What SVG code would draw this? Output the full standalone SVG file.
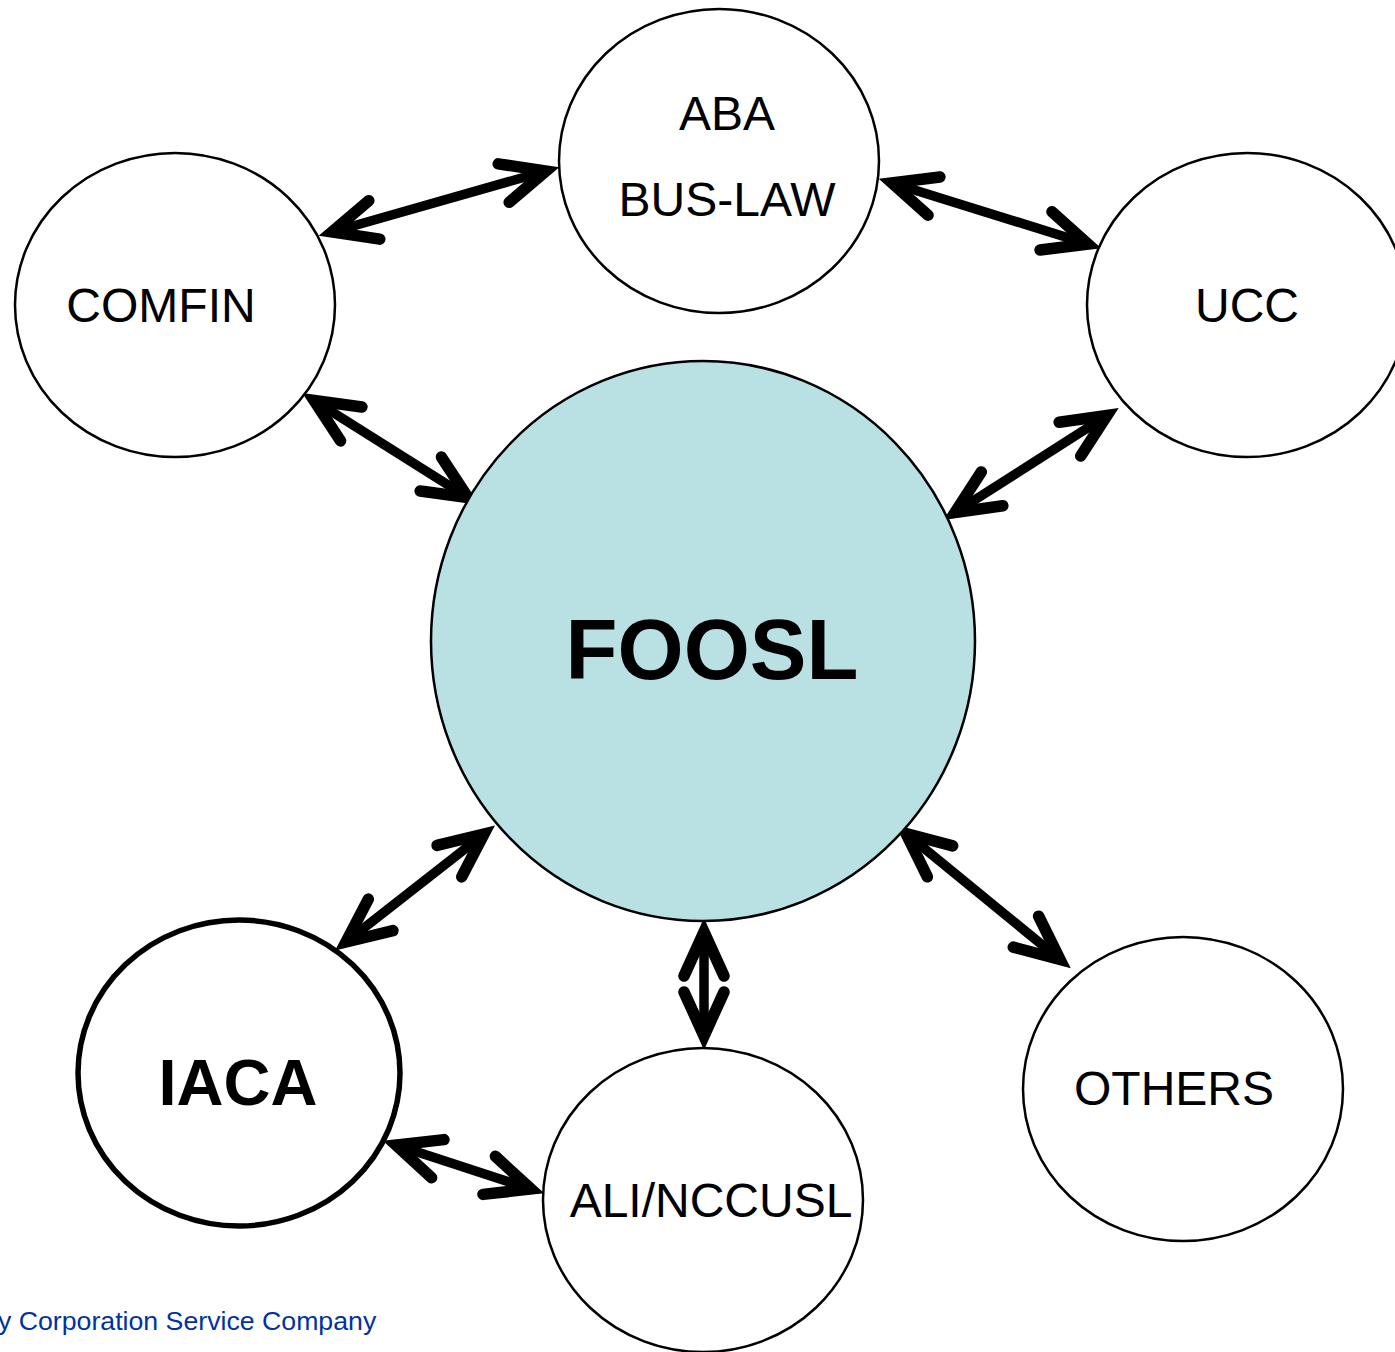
<svg xmlns="http://www.w3.org/2000/svg" width="1395" height="1352" viewBox="0 0 1395 1352">
<defs>
<style>
.node{fill:#fff;stroke:#000;stroke-width:2.5}
.lbl{font-family:"Liberation Sans",Arial,sans-serif;font-size:48px;fill:#000;text-anchor:middle}
.big{font-weight:bold}
.conn{stroke:#000;stroke-width:9.5;fill:none;marker-start:url(#ah);marker-end:url(#ah)}
</style>
<marker id="ah" markerUnits="userSpaceOnUse" orient="auto-start-reverse" refX="0" refY="0" markerWidth="120" markerHeight="120" overflow="visible">
<path d="M-44,-20 L0,0 L-44,20" fill="none" stroke="#000" stroke-width="11.5" stroke-linecap="round" stroke-linejoin="miter"/>
</marker>
</defs>
<rect width="1395" height="1352" fill="#fff"/>
<g id="connectors">
<line class="conn" x1="332" y1="232" x2="546" y2="171"/>
<line class="conn" x1="892" y1="183" x2="1088" y2="244"/>
<line class="conn" x1="314" y1="400.5" x2="468" y2="497.5"/>
<line class="conn" x1="1107" y1="415.5" x2="955" y2="512.5"/>
<line class="conn" x1="484" y1="834" x2="346" y2="942"/>
<line class="conn" x1="704" y1="932" x2="704" y2="1036"/>
<line class="conn" x1="906" y1="833.5" x2="1060" y2="959.5"/>
<line class="conn" x1="396" y1="1145" x2="531" y2="1189"/>
</g>
<g id="aba">
<ellipse class="node" cx="719" cy="161" rx="160" ry="152"/>
<text class="lbl" x="727" y="130">ABA</text>
<text class="lbl" x="727" y="216">BUS-LAW</text>
</g>
<g id="comfin">
<ellipse class="node" cx="175" cy="305" rx="160" ry="152"/>
<text class="lbl" x="161" y="322">COMFIN</text>
</g>
<g id="ucc">
<ellipse class="node" cx="1247" cy="305" rx="160" ry="152"/>
<text class="lbl" x="1247" y="322">UCC</text>
</g>
<g id="foosl">
<ellipse cx="703" cy="641" rx="272" ry="280" fill="#b9e0e3" stroke="#000" stroke-width="2.5"/>
<text class="lbl big" x="712" y="679" style="font-size:85px">FOOSL</text>
</g>
<g id="iaca">
<ellipse cx="239" cy="1073" rx="161" ry="153" fill="#fff" stroke="#000" stroke-width="5.5"/>
<text class="lbl big" x="238" y="1105" style="font-size:65px">IACA</text>
</g>
<g id="ali">
<ellipse class="node" cx="703" cy="1200" rx="160" ry="152"/>
<text class="lbl" x="711" y="1217">ALI/NCCUSL</text>
</g>
<g id="others">
<ellipse class="node" cx="1183" cy="1089" rx="160" ry="152"/>
<text class="lbl" x="1174" y="1105">OTHERS</text>
</g>
<text x="-2" y="1330" font-family="Liberation Sans, Arial, sans-serif" font-size="26.7" fill="#0033a0">y Corporation Service Company</text>
</svg>
